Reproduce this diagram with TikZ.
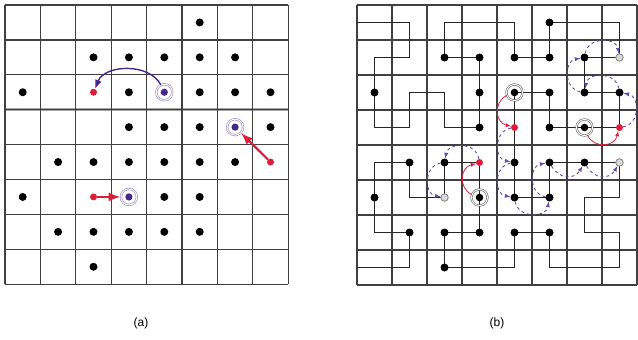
\documentclass[tikz,border=0pt]{standalone}
\usepackage{fontspec}
\setsansfont{Liberation Sans}
\usetikzlibrary{arrows.meta}

\definecolor{red1}{RGB}{220,30,60}
\definecolor{purple1}{RGB}{70,40,140}
\definecolor{purple2}{RGB}{100,75,170}
\tikzstyle{gridline} = [draw, black!75, line width=1.3pt]
\tikzstyle{fadeline} = [draw, black!35, line width=2.6pt]
\tikzstyle{pathline} = [draw, black!85, line width=1pt]
\tikzstyle{robot} = [circle, fill=black, inner sep=0pt, minimum size=8pt]
\tikzstyle{moved} = [circle, fill=red1, inner sep=0pt, minimum size=7pt]
\tikzstyle{goalA} = [circle, draw=purple1!55, double=white, double distance=1pt, line width=0.6pt, inner sep=0pt, minimum size=16pt, path picture={\fill[purple1] (path picture bounding box.center) circle (3.6pt);}]
\tikzstyle{goalB} = [circle, draw=black!60, double=white, double distance=1pt, line width=0.6pt, inner sep=0pt, minimum size=16pt, path picture={\fill[black] (path picture bounding box.center) circle (3.8pt);}]
\tikzstyle{hole} = [circle, draw=black!50, fill=black!15, line width=0.8pt, inner sep=0pt, minimum size=7.5pt]
\tikzstyle{arrow} = [draw, -latex]
\tikzstyle{bigarrow} = [draw, -{Latex[length=12pt,width=9pt]}, red1, line width=2.2pt]
\tikzstyle{backarrow} = [draw, -{Latex[length=9pt,width=7pt]}, purple1, line width=1.4pt]
\tikzstyle{pusharrow} = [arrow, purple2, dashed, line width=0.9pt, looseness=1.3]
\tikzstyle{swaparrow} = [arrow, red1, line width=0.8pt, looseness=1.3]
\tikzstyle{caption} = [font=\sffamily\fontsize{12}{14}\selectfont]

\begin{document}
\begin{tikzpicture}[x=1pt, y=-1pt]
  \useasboundingbox (0,0) rectangle (638,340);

  % (a) grid with robots
  \begin{scope}[shift={(5pt,-5pt)}, x=35.4pt, y=-34.9pt]
    \draw[fadeline] (0,3) -- (8,3);
    \foreach \i in {0,...,8} {
      \draw[gridline] (\i,0) -- (\i,8);
      \draw[gridline] (0,\i) -- (8,\i);
    }
    \foreach \c in {0,...,7}
      \foreach \r in {0,...,7}
        \coordinate (a-\c-\r) at (\c+.5,\r+.5);
  \end{scope}

  \foreach \c/\r in {5/0, 2/1, 3/1, 4/1, 5/1, 6/1, 0/2, 3/2, 5/2, 6/2, 7/2, 3/3, 4/3, 5/3, 7/3,
                     1/4, 2/4, 3/4, 4/4, 5/4, 6/4, 0/5, 4/5, 5/5, 1/6, 2/6, 3/6, 4/6, 5/6, 2/7}
    \node[robot] (pa-\c-\r) at (a-\c-\r) {};
  \foreach \c/\r in {2/2, 7/4, 2/5}
    \node[moved] (pa-\c-\r) at (a-\c-\r) {};
  \foreach \c/\r in {4/2, 6/3, 3/5}
    \node[goalA] (pa-\c-\r) at (a-\c-\r) {};

  \draw[backarrow] (pa-4-2) to[bend right=65] (pa-2-2);
  \draw[bigarrow] (pa-7-4) -- (pa-6-3);
  \draw[bigarrow] (pa-2-5) -- (pa-3-5);

  % (b) grid with the path through all cells
  \begin{scope}[shift={(357pt,-5pt)}, x=35pt, y=-35pt]
    \draw[fadeline] (2,0) -- (2,8);
    \draw[fadeline] (7,0) -- (7,8);
    \draw[fadeline] (0,6) -- (8,6);
    \foreach \i in {0,...,8} {
      \draw[gridline] (\i,0) -- (\i,8);
      \draw[gridline] (0,\i) -- (8,\i);
    }
    \foreach \c in {0,...,7}
      \foreach \r in {0,...,7}
        \coordinate (b-\c-\r) at (\c+.5,\r+.5);
    \coordinate (b-in) at (0,0.5);
    \coordinate (b-out) at (0,7.5);
  \end{scope}

  \draw[pathline] (b-in)
    \foreach \p in {0-0, 1-0, 1-1, 0-1, 0-2, 0-3, 1-3, 1-2, 2-2, 2-3, 3-3, 3-2, 3-1, 2-1, 2-0, 3-0,
                    4-0, 4-1, 5-1, 5-0, 6-0, 7-0, 7-1, 6-1, 6-2, 7-2, 7-3, 6-3, 5-3, 5-2, 4-2, 4-3,
                    4-4, 4-5, 5-5, 5-4, 6-4, 7-4, 7-5, 6-5, 6-6, 7-6, 7-7, 6-7, 5-7, 5-6, 4-6, 4-7,
                    3-7, 2-7, 2-6, 3-6, 3-5, 3-4, 2-4, 2-5, 1-5, 1-4, 0-4, 0-5, 0-6, 1-6, 1-7, 0-7}
      { -- (b-\p) } -- (b-out);

  \foreach \c/\r in {5/0, 2/1, 3/1, 4/1, 5/1, 6/1, 0/2, 3/2, 5/2, 6/2, 7/2, 3/3, 5/3,
                     1/4, 2/4, 4/4, 5/4, 6/4, 0/5, 4/5, 5/5, 1/6, 2/6, 3/6, 4/6, 5/6, 2/7}
    \node[robot] (pb-\c-\r) at (b-\c-\r) {};
  \foreach \c/\r in {4/3, 7/3, 3/4}
    \node[moved] (pb-\c-\r) at (b-\c-\r) {};
  \foreach \c/\r in {4/2, 6/3, 3/5}
    \node[goalB] (pb-\c-\r) at (b-\c-\r) {};
  \foreach \c/\r in {7/1, 7/4, 2/5}
    \node[hole] (pb-\c-\r) at (b-\c-\r) {};

  % pushes along the path towards the holes
  \draw[pusharrow] (pb-3-4) to[bend right=80] (pb-2-4);
  \draw[pusharrow] (pb-2-4) to[bend right=80] (pb-2-5);
  \draw[pusharrow] (pb-4-3) to[bend right=80] (pb-4-4);
  \draw[pusharrow] (pb-4-4) to[bend right=80] (pb-4-5);
  \draw[pusharrow] (pb-4-5) to[bend right=80] (pb-5-5);
  \draw[pusharrow] (pb-5-5) to[bend left=80] (pb-5-4);
  \draw[pusharrow] (pb-5-4) to[bend right=60] (pb-6-4);
  \draw[pusharrow] (pb-6-4) to[bend right=60] (pb-7-4);
  \draw[pusharrow] (pb-7-3) to[bend right=80] (pb-7-2);
  \draw[pusharrow] (pb-7-2) to[bend right=80] (pb-6-2);
  \draw[pusharrow] (pb-6-2) to[bend left=80] (pb-6-1);
  \draw[pusharrow] (pb-6-1) to[bend left=80] (pb-7-1);
  % goals move into the freed cells
  \draw[swaparrow] (pb-3-5) to[bend left=70] (pb-3-4);
  \draw[swaparrow] (pb-4-2) to[bend right=70] (pb-4-3);
  \draw[swaparrow] (pb-6-3) to[bend right=70] (pb-7-3);

  \node[caption] (capA) at (141,323) {(a)};
  \node[caption] (capB) at (497,323) {(b)};
\end{tikzpicture}
\end{document}
